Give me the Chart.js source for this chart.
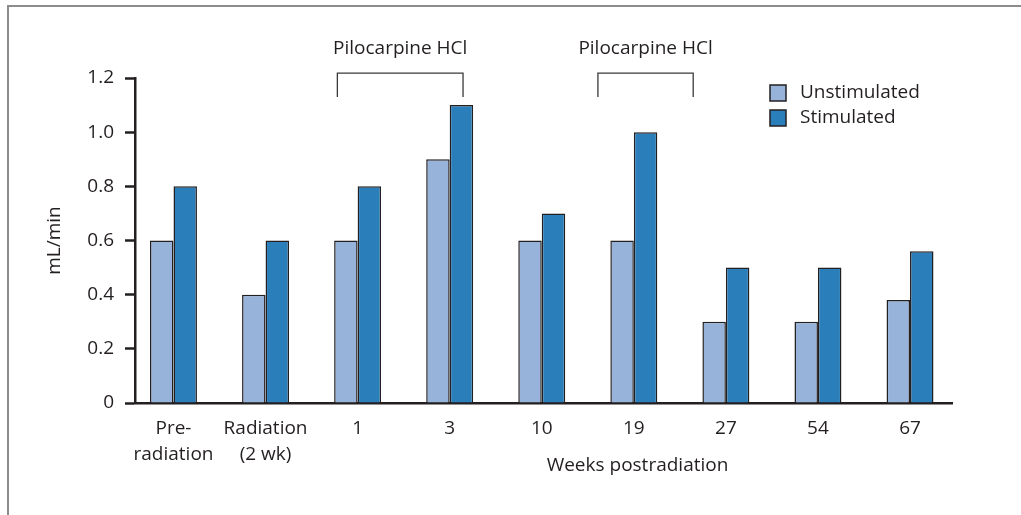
<!DOCTYPE html>
<html>
<head>
<meta charset="utf-8">
<script src="https://cdn.jsdelivr.net/npm/chart.js@4/dist/chart.umd.min.js"></script>
<style>
  html, body { margin: 0; padding: 0; background: #fff; }
  #wrap { width: 1021px; height: 515px; position: relative; }
</style>
</head>
<body>
<div id="wrap"><canvas id="salivaChart"></canvas></div>
<script>
// categories and values
const categories = [["Pre-", "radiation"], ["Radiation", "(2 wk)"], "1", "3", "10", "19", "27", "54", "67"];
const unstimulated = [0.6, 0.4, 0.6, 0.9, 0.6, 0.6, 0.3, 0.3, 0.38];
const stimulated = [0.8, 0.6, 0.8, 1.1, 0.7, 1.0, 0.5, 0.5, 0.56];
const yTicks = [0, 0.2, 0.4, 0.6, 0.8, 1.0, 1.2];
const seriesNames = ["Unstimulated", "Stimulated"];

// Pilocarpine brackets (in category units)
const bracketLabels = ["Pilocarpine HCl", "Pilocarpine HCl"];
const bracketStart = [1.78, 4.61];
const bracketEnd = [3.145, 5.645];

const ink = "#231f20";
const FONT = "'Open Sans', sans-serif";
const FS = 19;

// frame, bracket annotations, axis titles, legend
const extras = {
  id: "extras",
  afterDraw(chart) {
    const ctx = chart.ctx;
    const x = chart.scales.x;
    const y = chart.scales.y;
    ctx.save();
    // frame line on top/left
    ctx.strokeStyle = "#8c8c8c";
    ctx.lineWidth = 2;
    ctx.beginPath();
    ctx.moveTo(8, 515);
    ctx.lineTo(8, 6);
    ctx.lineTo(1021, 6);
    ctx.stroke();

    ctx.fillStyle = ink;
    ctx.font = FS + "px " + FONT;
    ctx.textAlign = "center";
    ctx.textBaseline = "middle";

    // brackets
    ctx.strokeStyle = "#3a3a3a";
    ctx.lineWidth = 1.3;
    const top = y.getPixelForValue(1.218);
    const bot = y.getPixelForValue(1.13);
    bracketLabels.forEach((lab, i) => {
      const x0 = x.getPixelForValue(bracketStart[i]);
      const x1 = x.getPixelForValue(bracketEnd[i]);
      ctx.beginPath();
      ctx.moveTo(x0, bot);
      ctx.lineTo(x0, top);
      ctx.lineTo(x1, top);
      ctx.lineTo(x1, bot);
      ctx.stroke();
      ctx.fillText(lab, (x0 + x1) / 2, y.getPixelForValue(1.307));
    });

    // x title
    ctx.fillText("Weeks postradiation", x.getPixelForValue(5.04), y.getPixelForValue(-0.23));

    // y title
    ctx.save();
    ctx.translate(55, (y.top + y.bottom) / 2);
    ctx.rotate(-Math.PI / 2);
    ctx.fillText("mL/min", 0, 0);
    ctx.restore();

    // legend
    ctx.textAlign = "left";
    chart.data.datasets.forEach((ds, i) => {
      const ly = 85 + i * 25;
      ctx.fillStyle = ds.backgroundColor;
      ctx.fillRect(770, ly, 16, 16);
      ctx.strokeStyle = ink;
      ctx.lineWidth = 1.5;
      ctx.strokeRect(770, ly, 16, 16);
      ctx.fillStyle = ink;
      ctx.fillText(ds.label, 800, ly + 8);
    });
    ctx.restore();
  }
};

new Chart(document.getElementById("salivaChart"), {
  type: "bar",
  data: {
    datasets: [
      {
        label: seriesNames[0],
        data: unstimulated.map((v, i) => ({ x: i, y: v })),
        backgroundColor: "#97b3da",
        borderColor: ink,
        borderWidth: 1.5
      },
      {
        label: seriesNames[1],
        data: stimulated.map((v, i) => ({ x: i, y: v })),
        backgroundColor: "#2a7eba",
        borderColor: ink,
        borderWidth: 1.5
      }
    ]
  },
  plugins: [extras],
  options: {
    responsive: true,
    maintainAspectRatio: false,
    animation: false,
    categoryPercentage: 0.51,
    barPercentage: 1.0,
    layout: { padding: { top: 78, right: 69, left: 0, bottom: 0 } },
    plugins: {
      legend: { display: false },
      tooltip: { enabled: false }
    },
    scales: {
      x: {
        type: "linear",
        offset: false,
        min: -0.418,
        max: 8.456,
        grid: { display: false },
        border: { display: true, color: ink, width: 2.5 },
        afterBuildTicks: (s) => { s.ticks = categories.map((_, i) => ({ value: i })); },
        afterFit: (s) => { s.height = 112; },
        ticks: {
          autoSkip: false,
          maxRotation: 0,
          padding: 5,
          color: ink,
          font: { family: FONT, size: FS, lineHeight: 1.35 },
          callback: (v) => categories[v]
        }
      },
      y: {
        min: 0,
        max: 1.2,
        afterBuildTicks: (s) => { s.ticks = yTicks.map((v) => ({ value: v })); },
        afterFit: (s) => { s.width = 135; },
        grid: {
          drawOnChartArea: false,
          drawTicks: true,
          tickLength: 10,
          tickWidth: 2.5,
          tickColor: ink
        },
        border: { display: true, color: ink, width: 2.5 },
        ticks: {
          padding: 11,
          color: ink,
          font: { family: FONT, size: FS },
          callback: (v) => (v === 0 ? "0" : v.toFixed(1))
        }
      }
    }
  }
});
</script>
</body>
</html>
